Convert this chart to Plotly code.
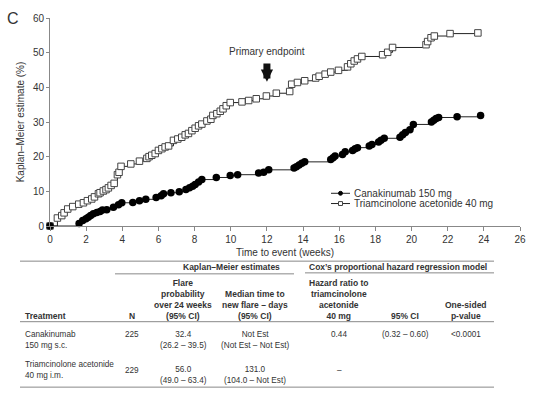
import plotly.graph_objects as go

# ---------------- data ----------------
weeks_cana = [0, 1.61, 1.81, 1.99, 2.12, 2.25, 2.40, 2.59, 2.77, 2.90, 3.14, 3.51, 3.79, 3.97,
              4.58, 4.95, 5.30, 5.87, 6.15, 6.28, 6.69, 7.15, 7.52, 7.72, 7.89, 8.03, 8.22, 8.40,
              9.20, 9.97, 10.38, 11.54, 11.82, 12.10, 13.50, 13.63, 13.78, 13.93, 14.09,
              15.53, 15.66, 15.77, 16.18, 16.33, 16.74, 16.88, 17.01, 17.66, 17.81, 18.18,
              18.31, 18.49, 19.36, 19.51, 19.66, 19.91, 20.10, 21.10, 21.23, 21.36, 21.50,
              22.52, 23.82]
km_cana = [0, 0.7, 1.6, 2.1, 2.5, 3.0, 3.5, 3.9, 4.2, 4.6, 4.7, 5.4, 6.1, 6.7,
           6.8, 7.3, 7.7, 8.2, 8.7, 9.3, 9.6, 9.9, 10.5, 11.0, 11.5, 12.0, 12.7, 13.4,
           14.0, 14.6, 14.8, 15.3, 15.5, 16.2, 16.7, 17.1, 17.6, 18.1, 18.5,
           19.2, 19.7, 20.2, 20.6, 21.4, 21.8, 22.3, 22.6, 23.1, 23.5, 24.2,
           24.7, 25.3, 25.6, 26.3, 27.0, 27.8, 29.3, 30.0, 30.5, 31.0, 31.3,
           31.5, 31.9]

weeks_tri = [0, 0.41, 0.65, 0.78, 0.98, 1.26, 1.59, 1.85, 2.07, 2.31, 2.46, 2.68, 2.77, 2.95,
             3.10, 3.23, 3.38, 3.55, 3.73, 3.82, 3.93, 4.47, 4.95, 5.36, 5.48, 5.63, 5.82,
             6.00, 6.19, 6.37, 6.56, 6.83, 7.07, 7.29, 7.48, 7.66, 7.85, 8.03, 8.22, 8.40,
             8.68, 8.90, 9.01, 9.23, 9.42, 9.57, 9.75, 9.97, 10.62, 10.99, 11.41, 11.97,
             12.52, 13.26, 13.37, 13.69, 14.09, 14.70, 14.89, 15.22, 15.53, 15.96, 16.46,
             16.64, 16.83, 17.01, 17.25, 18.40, 18.68, 18.95, 20.80, 20.89, 21.08, 21.26,
             22.13, 23.67]
km_tri = [0, 2.3, 3.0, 3.8, 4.9, 5.6, 6.3, 6.7, 7.3, 7.8, 8.4, 9.3, 9.6, 10.1,
          10.5, 11.0, 11.7, 12.3, 14.8, 15.5, 17.2, 17.9, 18.7, 19.5, 20.0, 20.4, 20.9,
          21.8, 22.3, 22.8, 23.1, 24.7, 25.1, 25.6, 26.3, 26.7, 27.5, 28.2, 28.9, 29.4,
          30.3, 30.8, 31.9, 32.4, 33.1, 33.8, 34.7, 35.6, 35.8, 36.2, 36.7, 37.5,
          38.3, 38.8, 40.9, 41.4, 41.9, 42.7, 43.2, 43.8, 44.4, 44.9, 45.9,
          46.8, 47.6, 48.2, 48.9, 49.4, 50.1, 51.5, 52.3, 53.2, 54.3, 54.8,
          55.5, 55.7]

series_names = ["Canakinumab 150 mg", "Triamcinolone acetonide 40 mg"]
x_ticks = list(range(0, 27, 2))
y_ticks = [0, 10, 20, 30, 40, 50, 60]
endpoint_week = 12

# table content
tbl_group_headers = ["Kaplan\u2013Meier estimates", "Cox\u2019s proportional hazard regression model"]
tbl_col_headers = ["Treatment", "N", "Flare<br>probability<br>over 24 weeks<br>(95% CI)",
                   "Median time to<br>new flare \u2013 days<br>(95% CI)",
                   "Hazard ratio to<br>triamcinolone<br>acetonide<br>40 mg", "95% CI",
                   "One-sided<br>p-value"]
tbl_row1 = ["Canakinumab<br>150 mg s.c.", "225", "32.4<br>(26.2 \u2013 39.5)",
            "Not Est<br>(Not Est \u2013 Not Est)", "0.44", "(0.32 \u2013 0.60)", "<0.0001"]
tbl_row2 = ["Triamcinolone acetonide<br>40 mg i.m.", "229", "56.0<br>(49.0 \u2013 63.4)",
            "131.0<br>(104.0 \u2013 Not Est)", "\u2013", "", ""]

# ---------------- figure ----------------
W, H = 544, 396
ML, MR, MT, MB = 50, 24, 13, 170
PW, PH = W - ML - MR, H - MT - MB

def px(x):
    return (x - ML) / PW

def py(y):
    return (H - MB - y) / PH

FONT = "Arial, Liberation Sans, sans-serif"
TXT = "#333333"
LINE = "#222222"

fig = go.Figure()
fig.add_trace(go.Scatter(
    x=weeks_tri, y=km_tri, mode="lines+markers", name=series_names[1], showlegend=False,
    cliponaxis=False, line=dict(shape="hv", color=LINE, width=1),
    marker=dict(symbol="square", size=6.5, color="white", line=dict(color="#444444", width=1))))
fig.add_trace(go.Scatter(
    x=weeks_cana, y=km_cana, mode="lines+markers", name=series_names[0], showlegend=False,
    cliponaxis=False, line=dict(shape="hv", color=LINE, width=1),
    marker=dict(symbol="circle", size=7.5, color="black")))

annotations = [
    dict(text="C", x=px(13), y=py(13), xref="paper", yref="paper", xanchor="center",
         yanchor="middle", showarrow=False, font=dict(size=16, color=TXT)),
    dict(text="Primary endpoint", x=endpoint_week, y=50.2, xref="x", yref="y",
         showarrow=False, font=dict(size=10, color=TXT), xanchor="center", yanchor="middle"),
    dict(text="", x=endpoint_week, y=41.6, ax=endpoint_week, ay=47.3, xref="x", yref="y",
         axref="x", ayref="y", showarrow=True, arrowhead=2, arrowsize=0.35, arrowwidth=7,
         arrowcolor="#111111"),
]

shapes = []
# legend drawn as a small key (tight row spacing as in the reference)
leg_rows = [192.5, 203]
for name, yy, kind in zip(series_names, leg_rows, ("circle", "square")):
    shapes.append(dict(type="line", xref="paper", yref="paper", x0=px(331), x1=px(350),
                       y0=py(yy), y1=py(yy), line=dict(color=LINE, width=1)))
    if kind == "circle":
        shapes.append(dict(type="circle", xref="paper", yref="paper", x0=px(338.5), x1=px(342.5),
                           y0=py(yy + 2), y1=py(yy - 2), fillcolor="black",
                           line=dict(color="black", width=1)))
    else:
        shapes.append(dict(type="rect", xref="paper", yref="paper", x0=px(338.5), x1=px(342.5),
                           y0=py(yy + 2), y1=py(yy - 2), fillcolor="white",
                           line=dict(color="#444444", width=1)))
    annotations.append(dict(text=name, x=px(352), y=py(yy), xref="paper", yref="paper",
                            xanchor="left", yanchor="middle", showarrow=False,
                            font=dict(size=10, color=TXT)))

hdr_font = dict(size=8.5, color=TXT, family=FONT)
body_font = dict(size=8.2, color=TXT, family=FONT)
col_x = [23, 132, 183, 255, 339, 405, 466]
col_anchor = ["left", "center", "center", "center", "center", "center", "center"]

annotations.append(dict(text="<b>%s</b>" % tbl_group_headers[0], x=px(231), y=py(268),
                        xref="paper", yref="paper", showarrow=False, font=hdr_font,
                        xanchor="center", yanchor="middle"))
annotations.append(dict(text="<b>%s</b>" % tbl_group_headers[1], x=px(398), y=py(268),
                        xref="paper", yref="paper", showarrow=False, font=hdr_font,
                        xanchor="center", yanchor="middle"))
for i, t in enumerate(tbl_col_headers):
    t = "<br>".join("<b>%s</b>" % s for s in t.split("<br>"))
    annotations.append(dict(text=t, x=px(col_x[i]), y=py(325), xref="paper", yref="paper",
                            showarrow=False, font=hdr_font, xanchor=col_anchor[i],
                            yanchor="bottom", align=col_anchor[i]))

row_tops = {0: (330, 361), 1: (330, 367), 2: (330, 366), 3: (330, 366),
            4: (330, 367), 5: (330, 367), 6: (330, 367)}
for r, row in enumerate((tbl_row1, tbl_row2)):
    for i, t in enumerate(row):
        if not t:
            continue
        annotations.append(dict(text=t, x=px(col_x[i]), y=py(row_tops[i][r]), xref="paper",
                                yref="paper", showarrow=False, font=body_font,
                                xanchor=col_anchor[i], yanchor="top", align=col_anchor[i]))

rule = dict(type="line", xref="paper", yref="paper", line=dict(color="#888888", width=1))
shapes += [
    dict(rule, x0=px(20), x1=px(494), y0=py(262), y1=py(262)),
    dict(rule, x0=px(115), x1=px(294), y0=py(275), y1=py(275)),
    dict(rule, x0=px(305), x1=px(494), y0=py(274), y1=py(274)),
    dict(rule, x0=px(20), x1=px(494), y0=py(324), y1=py(324)),
    dict(rule, x0=px(20), x1=px(494), y0=py(391), y1=py(391)),
]

fig.update_layout(
    width=W, height=H, margin=dict(l=ML, r=MR, t=MT, b=MB),
    paper_bgcolor="white", plot_bgcolor="white",
    font=dict(family=FONT, color=TXT, size=10),
    showlegend=False,
    annotations=annotations, shapes=shapes,
)
fig.update_xaxes(range=[0, 26], tickvals=x_ticks, showgrid=False, zeroline=False,
                 showline=True, linecolor="#888888", linewidth=1, ticks="outside",
                 ticklen=4, tickcolor="#888888", tickfont=dict(size=10, color=TXT),
                 title=dict(text="Time to event (weeks)", font=dict(size=10, color=TXT),
                            standoff=4))
fig.update_yaxes(range=[0, 60], tickvals=y_ticks, showgrid=False, zeroline=False,
                 showline=True, linecolor="#888888", linewidth=1, ticks="outside",
                 ticklen=3, tickcolor="#888888", tickfont=dict(size=10, color=TXT),
                 title=dict(text="Kaplan\u2013Meier estimate (%)", font=dict(size=10, color=TXT),
                            standoff=6))

fig.write_html("out.html", config={"displayModeBar": False},
               post_script="document.body.style.margin='0';document.body.style.padding='0';"
                           "document.documentElement.style.overflow='hidden';")
